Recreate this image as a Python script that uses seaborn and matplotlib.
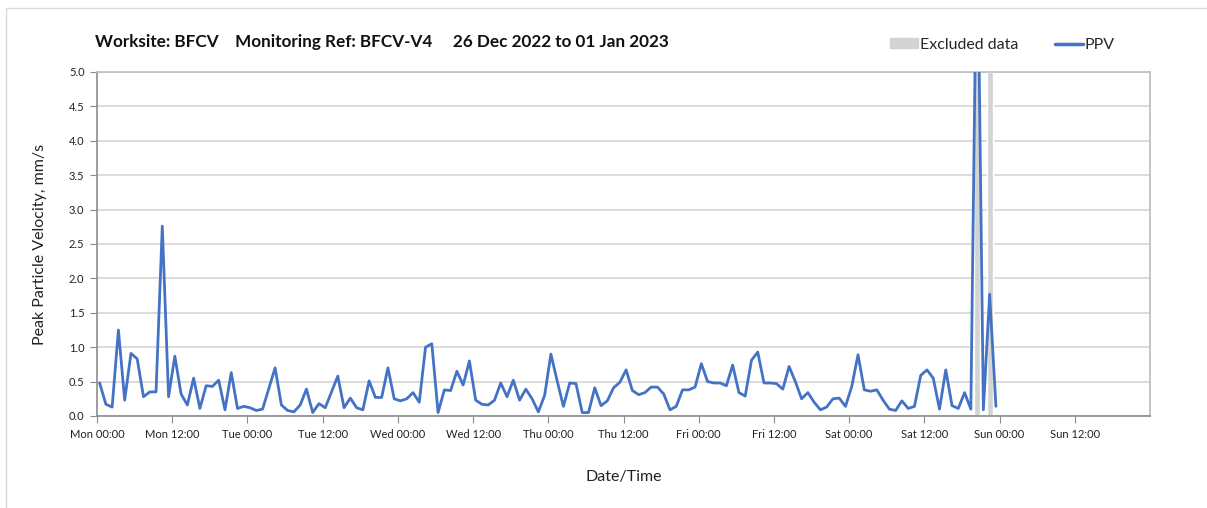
import numpy as np
import pandas as pd
import matplotlib
matplotlib.use("Agg")
import matplotlib.pyplot as plt
import matplotlib.dates as mdates
from matplotlib.patches import Patch, Rectangle
from matplotlib.lines import Line2D
import seaborn as sns

# hourly PPV readings, mm/s (26 Dec 2022 - 31 Dec 2022)
ppv = [0.48, 0.17, 0.13, 1.25, 0.23, 0.91, 0.83, 0.28, 0.35, 0.35, 2.76, 0.28,
       0.87, 0.32, 0.16, 0.55, 0.11, 0.44, 0.43, 0.52, 0.09, 0.63, 0.11, 0.14,
       0.12, 0.08, 0.10, 0.40, 0.70, 0.16, 0.08, 0.06, 0.16, 0.39, 0.05, 0.18,
       0.12, 0.35, 0.58, 0.12, 0.26, 0.12, 0.09, 0.51, 0.27, 0.27, 0.70, 0.25,
       0.22, 0.25, 0.34, 0.20, 1.00, 1.05, 0.05, 0.38, 0.37, 0.65, 0.45, 0.80,
       0.23, 0.17, 0.16, 0.23, 0.48, 0.28, 0.52, 0.23, 0.39, 0.25, 0.06, 0.30,
       0.90, 0.51, 0.14, 0.48, 0.47, 0.05, 0.05, 0.41, 0.15, 0.22, 0.41, 0.49,
       0.67, 0.37, 0.31, 0.34, 0.42, 0.42, 0.32, 0.09, 0.14, 0.38, 0.38, 0.42,
       0.76, 0.50, 0.48, 0.48, 0.44, 0.74, 0.34, 0.29, 0.81, 0.93, 0.48, 0.48,
       0.47, 0.39, 0.72, 0.50, 0.25, 0.34, 0.20, 0.09, 0.13, 0.25, 0.26, 0.14,
       0.43, 0.89, 0.38, 0.36, 0.38, 0.23, 0.10, 0.08, 0.22, 0.11, 0.14, 0.59,
       0.67, 0.55, 0.10, 0.67, 0.15, 0.11, 0.34, 0.10, 7.50, 0.09, 1.77, 0.14]
times = pd.date_range("2022-12-26 00:25", periods=len(ppv), freq="h")
excluded = pd.to_datetime(["2022-12-31 20:25", "2022-12-31 22:25"])

y_max = 5.0
title = "Worksite: BFCV    Monitoring Ref: BFCV-V4     26 Dec 2022 to 01 Jan 2023"

sns.set_style("white")
plt.rcParams["font.family"] = ["Lato", "DejaVu Sans"]

blue = "#4472C4"
grey = "#D3D3D3"
grid_c = "#D9D9D9"
axis_c = "#8C8C8C"

fig = plt.figure(figsize=(12.07, 5.08), dpi=100)
ax = fig.add_axes([97 / 1207, 1 - 416 / 508, 1053 / 1207, 344 / 508])

x = mdates.date2num(times)
xe = mdates.date2num(excluded)
ax.bar(xe, [y_max] * len(xe), width=1 / 24, color=grey, zorder=2)
sns.lineplot(x=x, y=ppv, ax=ax, color=blue, lw=2.0, zorder=3)

start = mdates.date2num(pd.Timestamp("2022-12-26"))
ax.set_xlim(start, start + 7)
ax.set_ylim(0, y_max)

ax.set_xticks(start + np.arange(0, 7, 0.5))
ax.xaxis.set_major_formatter(mdates.DateFormatter("%a %H:%M"))
ax.xaxis.set_minor_locator(mdates.DayLocator())
ax.set_yticks(np.arange(0, 5.01, 0.5))
ax.yaxis.set_major_formatter(matplotlib.ticker.FormatStrFormatter("%.1f"))

ax.grid(axis="y", which="major", color=grid_c, lw=1.3)
ax.grid(axis="x", which="minor", color=grid_c, lw=1.3)
ax.set_axisbelow(True)

ax.tick_params(axis="both", which="major", direction="out", length=5,
               color=axis_c, labelsize=8, labelcolor="#222222", pad=4)
ax.tick_params(axis="x", which="minor", length=0)
ax.tick_params(axis="y", left=True)
ax.tick_params(axis="x", bottom=True)

for s in ["left", "bottom"]:
    ax.spines[s].set_color(axis_c)
    ax.spines[s].set_linewidth(1.2)
for s in ["top", "right"]:
    ax.spines[s].set_color("#BFBFBF")
    ax.spines[s].set_linewidth(1.2)

ax.set_xlabel("Date/Time", fontsize=11.5, labelpad=22, color="#222222")
ax.set_ylabel("Peak Particle Velocity, mm/s", fontsize=11.5, labelpad=16,
              color="#222222")

fig.text(95 / 1207, 1 - 42 / 508, title, fontsize=12.3, fontweight="bold",
         va="center", ha="left", color="#111111")

handles = [Patch(color=grey), Line2D([0], [0], color=blue, lw=2.5)]
fig.legend(handles, ["Excluded data", "PPV"], loc="center left",
           bbox_to_anchor=(884 / 1207, 1 - 45 / 508), ncol=2, frameon=False,
           fontsize=11.5, handlelength=1.75, handleheight=0.6,
           handletextpad=0.1, columnspacing=2.3, borderaxespad=0)

# outer chart frame
fig.patches.append(Rectangle((6 / 1207, -0.05), 1.1, 1 - 8 / 508 + 0.05,
                             transform=fig.transFigure, fill=False,
                             ec="#D9D9D9", lw=1.0))

fig.savefig("out.png", dpi=100)
